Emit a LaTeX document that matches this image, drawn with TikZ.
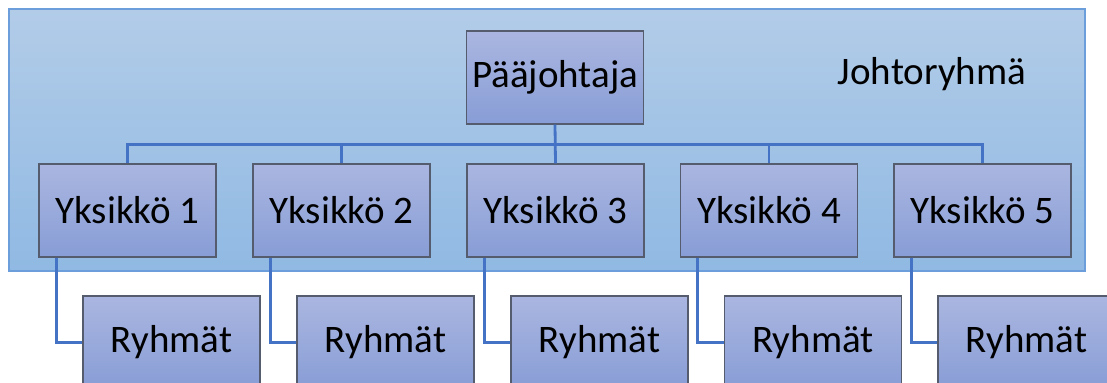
\documentclass[tikz,border=0pt]{standalone}
\usepackage{fontspec}
\setmainfont{Carlito}
\definecolor{linkblue}{RGB}{68,114,196}
\definecolor{boxtop}{RGB}{170,182,224}
\definecolor{boxbot}{RGB}{136,157,214}
\definecolor{grptop}{RGB}{178,204,232}
\definecolor{grpbot}{RGB}{144,185,227}
\definecolor{grpedge}{RGB}{108,158,220}
\begin{document}
\begin{tikzpicture}[x=0.5pt,y=-0.5pt,
	unit/.style={rectangle,draw={rgb,255:red,85;green,92;blue,110},line width=0.7pt,top color=boxtop,bottom color=boxbot,minimum width=88.5pt,minimum height=46.5pt,inner sep=0pt,font=\fontsize{19.5}{23}\selectfont},
	link/.style={draw=linkblue,line width=1.4pt}]
			\clip (0,0) rectangle (1107,383);
			%group box
			\node [rectangle,draw=grpedge,line width=0.7pt,top color=grptop,bottom color=grpbot,minimum width=538pt,minimum height=131pt,inner sep=0pt] (grp) at (547,140) {};
			\node [anchor=base,font=\fontsize{19.5}{23}\selectfont] (grplabel) at (932,85) {Johtoryhmä};

			%top node
			\node [unit] (paa) at (555,77.5) {Pääjohtaja};

			%unit nodes
			\node [unit] (y1) at (127.5,210.5) {Yksikkö 1};
			\node [unit] (y2) at (341.5,210.5) {Yksikkö 2};
			\node [unit] (y3) at (555.5,210.5) {Yksikkö 3};
			\node [unit] (y4) at (769,210.5) {Yksikkö 4};
			\node [unit] (y5) at (982.5,210.5) {Yksikkö 5};

			%group nodes
			\node [unit] (r1) at (171.5,342.5) {Ryhmät};
			\node [unit] (r2) at (385.5,342.5) {Ryhmät};
			\node [unit] (r3) at (599.5,342.5) {Ryhmät};
			\node [unit] (r4) at (813,342.5) {Ryhmät};
			\node [unit] (r5) at (1026.5,342.5) {Ryhmät};

			%edges
			\draw[link] (paa.south) -- ++(0,-10pt) -| (y1.north);
			\draw[link] (paa.south) -- ++(0,-10pt) -| (y2.north);
			\draw[link] (paa.south) -- (y3.north);
			\draw[link] (paa.south) -- ++(0,-10pt) -| (y4.north);
			\draw[link] (paa.south) -- ++(0,-10pt) -| (y5.north);
			\draw[link] ([xshift=9pt]y1.south west) |- (r1.west);
			\draw[link] ([xshift=9pt]y2.south west) |- (r2.west);
			\draw[link] ([xshift=9pt]y3.south west) |- (r3.west);
			\draw[link] ([xshift=9pt]y4.south west) |- (r4.west);
			\draw[link] ([xshift=9pt]y5.south west) |- (r5.west);
		\end{tikzpicture}
\end{document}
